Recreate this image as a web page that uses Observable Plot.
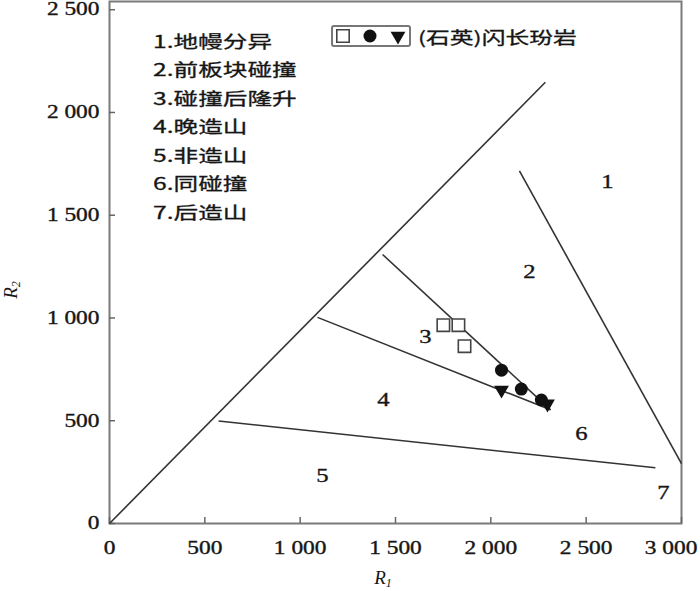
<!DOCTYPE html>
<html><head><meta charset="utf-8">
<script src="https://cdn.jsdelivr.net/npm/d3@7"></script>
<script src="https://cdn.jsdelivr.net/npm/@observablehq/plot@0.6"></script>
<style>
body{margin:0;background:#fff;}
#chart{width:700px;height:591px;}
</style></head><body><div id="chart"></div>
<script>
// ---- data ----
const xTicks = [0, 500, 1000, 1500, 2000, 2500, 3000];
const yTicks = [0, 500, 1000, 1500, 2000, 2500];
// field boundary segments (R1, R2)
const boundaryX1 = [0, 2150, 1432, 1091, 572];
const boundaryY1 = [0, 1716, 1309, 1003, 499];
const boundaryX2 = [2286, 3000, 2313, 2313, 2863];
const boundaryY2 = [2147, 291, 553, 553, 271];
// field labels
const regionNumbers = ["1", "2", "3", "4", "5", "6", "7"];
const regionLabelX = [2611, 2202, 1657, 1437, 1117, 2475, 2905];
const regionLabelY = [1663, 1222, 906, 601, 233, 436, 150];
const regionNames = ["1.地幔分异", "2.前板块碰撞", "3.碰撞后隆升", "4.晚造山", "5.非造山", "6.同碰撞", "7.后造山"];
// samples
const squareX = [1751, 1830, 1862];
const squareY = [965, 965, 863];
const circleX = [2056, 2160, 2265];
const circleY = [746, 654, 601];
const triangleX = [2056, 2297];
const triangleY = [650, 582];
const seriesName = "(石英)闪长玢岩";
const xLabel = ["R", "1"];
const yLabel = ["R", "2"];

// ---- build ----
const boundaries = boundaryX1.map((d, i) => ({x1: d, y1: boundaryY1[i], x2: boundaryX2[i], y2: boundaryY2[i]}));
const regions = regionNumbers.map((t, i) => ({t, x: regionLabelX[i], y: regionLabelY[i]}));
const squares = squareX.map((x, i) => ({x, y: squareY[i]}));
const circles = circleX.map((x, i) => ({x, y: circleY[i]}));
const triangles = triangleX.map((x, i) => ({x, y: triangleY[i]}));
const fmt = d => d >= 1000 ? d3.format(",")(d).replace(",", " ") : String(d);
const serif = "'Liberation Serif', 'DejaVu Serif', serif";
const cjk = "'Noto Sans CJK SC', sans-serif";
const ink = "#161616";

const chart = Plot.plot({
  width: 700, height: 591,
  marginLeft: 109, marginRight: 19, marginTop: 1, marginBottom: 68,
  x: {domain: [0, 3000]},
  y: {domain: [0, 2540]},
  style: {background: "#fff", color: ink},
  marks: [
    Plot.frame({stroke: "#7a7a7a", strokeWidth: 2}),
    Plot.axisX({ticks: xTicks, tickSize: -6, tickPadding: 24, tickFormat: fmt, label: null,
      fontSize: 18, fontFamily: serif, stroke: "#666", strokeWidth: 1.5}),
    Plot.axisY({ticks: yTicks, tickSize: -6, tickPadding: 16, tickFormat: fmt, label: null,
      fontSize: 18, fontFamily: serif, stroke: "#666", strokeWidth: 1.5}),
    Plot.link(boundaries, {x1: "x1", y1: "y1", x2: "x2", y2: "y2", stroke: "#333", strokeWidth: 1.6}),
    Plot.text(regions, {x: "x", y: "y", text: "t", fontSize: 19, fontFamily: serif, fill: ink}),
    Plot.dot(squares, {x: "x", y: "y", symbol: "square", r: 7, stroke: "#444", strokeWidth: 1.6, fill: "white"}),
    Plot.dot(circles, {x: "x", y: "y", symbol: "circle", r: 6.5, fill: "#111", stroke: "none"}),
    Plot.dot(triangles, {x: "x", y: "y", symbol: "triangle", rotate: 180, r: 5.5, fill: "#111", stroke: "none"})
  ]
});
document.getElementById("chart").appendChild(chart);

const svg = d3.select(chart);
// stretch tick labels horizontally like the reference
svg.selectAll('g[aria-label="x-axis tick label"] text, g[aria-label="y-axis tick label"] text')
  .attr("transform", function() { const t = this.getAttribute("transform") || ""; return t + " scale(1.3,1)"; })
  .attr("stroke", ink).attr("stroke-width", 0.35);
// pull the last x label inside the picture, as in the reference
const xl = svg.selectAll('g[aria-label="x-axis tick label"] text').nodes();
if (xl.length) { const last = xl[xl.length - 1]; last.setAttribute("transform", last.getAttribute("transform") + " translate(-8,0)"); }
svg.selectAll('g[aria-label="text"] text')
  .attr("transform", function() { const t = this.getAttribute("transform") || ""; return t + " scale(1.3,1)"; })
  .attr("stroke", ink).attr("stroke-width", 0.35);

// axis titles
const xt = svg.append("text").attr("x", 383).attr("y", 584).attr("text-anchor", "middle")
  .attr("font-family", serif).attr("font-size", 19).attr("font-style", "italic").attr("fill", ink);
xt.append("tspan").text(xLabel[0]);
xt.append("tspan").attr("font-size", 12).attr("dy", 3).text(xLabel[1]);
const yt = svg.append("text").attr("transform", "translate(17,290) rotate(-90)").attr("text-anchor", "middle")
  .attr("font-family", serif).attr("font-size", 19).attr("font-style", "italic").attr("fill", ink);
yt.append("tspan").text(yLabel[0]);
yt.append("tspan").attr("font-size", 12).attr("dy", 3).text(yLabel[1]);

// field name list
const list = svg.append("g").attr("font-family", cjk).attr("font-size", 17).attr("fill", ink)
  .attr("text-anchor", "start").attr("stroke", ink).attr("stroke-width", 0.3);
regionNames.forEach((name, i) => {
  list.append("text").attr("transform", `translate(153,${40 + i * 28.5}) scale(1.45,1)`)
    .attr("dominant-baseline", "central").text(name);
});

// sample legend
const lg = svg.append("g");
lg.append("rect").attr("x", 332).attr("y", 26).attr("width", 78).attr("height", 20).attr("rx", 2)
  .attr("fill", "none").attr("stroke", "#777").attr("stroke-width", 2);
lg.append("path").attr("d", d3.symbol(d3.symbolSquare, Math.PI * 49)()).attr("transform", "translate(343,36)")
  .attr("fill", "white").attr("stroke", "#444").attr("stroke-width", 1.6);
lg.append("path").attr("d", d3.symbol(d3.symbolCircle, Math.PI * 6.5 * 6.5)()).attr("transform", "translate(370,36)")
  .attr("fill", "#111");
lg.append("path").attr("d", d3.symbol(d3.symbolTriangle, Math.PI * 5.5 * 5.5)()).attr("transform", "translate(398,36) rotate(180)")
  .attr("fill", "#111");
lg.append("text").attr("transform", "translate(418,37) scale(1.4,1)").attr("dominant-baseline", "central")
  .attr("text-anchor", "start").attr("font-family", cjk).attr("font-size", 17).attr("fill", ink)
  .attr("stroke", ink).attr("stroke-width", 0.3).text(seriesName);
</script></body></html>
